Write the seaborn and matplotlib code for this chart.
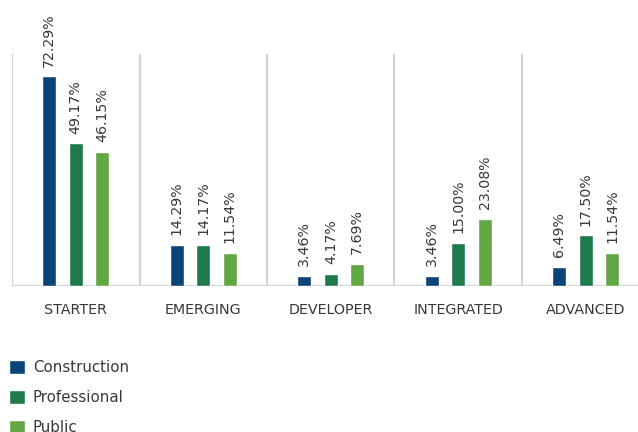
import matplotlib
matplotlib.use("Agg")
import matplotlib.pyplot as plt
import seaborn as sns
import pandas as pd

stages = ["STARTER", "EMERGING", "DEVELOPER", "INTEGRATED", "ADVANCED"]
sectors = ["Construction", "Professional", "Public"]
construction = [72.29, 14.29, 3.46, 3.46, 6.49]
professional = [49.17, 14.17, 4.17, 15.00, 17.50]
public = [46.15, 11.54, 7.69, 23.08, 11.54]
palette = ["#0b4477", "#1e7a48", "#61a744"]

df = pd.DataFrame({
    "stage": stages * 3,
    "sector": [s for s in sectors for _ in stages],
    "share": construction + professional + public,
})

sns.set_theme(style="white")
plt.rcParams["font.family"] = ["DejaVu Sans"]

fig = plt.figure(figsize=(6.38, 4.32), dpi=100)
ax = fig.add_axes([12 / 638, (432 - 286) / 432, 1 - 12 / 638, 232 / 432])

sns.barplot(data=df, x="stage", y="share", hue="sector", order=stages,
            hue_order=sectors, palette=palette, width=0.625, gap=0.47,
            saturation=1, ax=ax, legend=True)

for cont in ax.containers:
    ax.bar_label(cont, fmt="%.2f%%", rotation=90, padding=7,
                 fontsize=10.2, color="#383838")

ax.set_xlim(-0.5, (638 - 12) / 127.5 - 0.5)
ax.set_ylim(0, 80)
for x in [-0.5, 0.5, 1.5, 2.5, 3.5]:
    ax.axvline(x, color="#d4d4d4", lw=1.6, zorder=0)
ax.axhline(0, color="#d4d4d4", lw=1.6, zorder=0)

ax.set_xlabel("")
ax.set_ylabel("")
ax.set_yticks([])
ax.tick_params(axis="x", length=0, pad=12, labelsize=10.3, labelcolor="#383838")
for s in ax.spines.values():
    s.set_visible(False)

handles, labels = ax.get_legend_handles_labels()
ax.get_legend().remove()
fig.legend(handles, labels, loc="upper left",
           bbox_to_anchor=(3 / 638, 1 - 354 / 432), frameon=False,
           fontsize=10.8, labelcolor="#383838", handlelength=1.05,
           handleheight=1.05, handletextpad=0.55, labelspacing=1.0,
           borderaxespad=0)

fig.savefig("out.png", dpi=100)
